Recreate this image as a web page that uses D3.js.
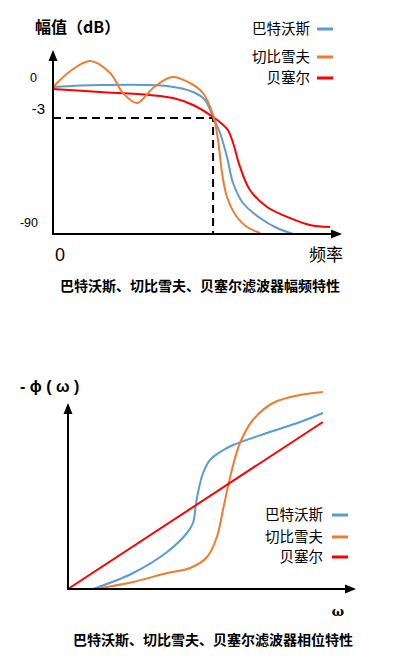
<!DOCTYPE html>
<html><head><meta charset="utf-8">
<script src="https://cdn.jsdelivr.net/npm/d3@7/dist/d3.min.js"></script>
<style>html,body{margin:0;padding:0;background:#fff;}svg{display:block;}</style>
</head><body>
<svg id="c" width="420" height="661"></svg>
<script>
// ---------- DATA ----------
const seriesNames = ["巴特沃斯", "切比雪夫", "贝塞尔"];
const seriesColors = ["#5B9BD5", "#ED7D31", "#FF0000"];
// Amplitude chart (x: frequency units 0..100, y: level units)
const ampButterX = [0, 16.2, 39.3, 48.3, 52.4, 55.2, 57.6, 60, 62.1, 65.5, 71.4, 77.2, 82.8];
const ampButterY = [73.5, 74.5, 74, 71, 67, 58.5, 50.5, 38.5, 25.5, 15.5, 8, 3, 0];
const ampChebX = [0, 6.5, 12.8, 19.7, 24.1, 29, 34.5, 41, 47.2, 51.7, 55.2, 56.9, 58.3, 60, 63.4, 66.9, 71.4];
const ampChebY = [73.5, 82, 86.5, 80.5, 70.5, 65.5, 73, 78.5, 75.5, 70.5, 59.5, 47, 30.5, 18.5, 8.5, 3.5, 0.5];
const ampBesselX = [0, 16.2, 33.4, 41.4, 48.3, 55.2, 58.3, 60.3, 62.1, 64.5, 67.9, 73.8, 81.7, 88.6, 95.5];
const ampBesselY = [72.5, 71, 69.5, 68, 64.5, 58.5, 55, 52, 45.5, 33.5, 22, 13.5, 8, 4.5, 3.5];
const ampTickLabels = ["0", "-3", "-90"];
const ampTickValues = [78, 62.5, 5.5];
const cutoff = {x: 55.2, y: 58};
// Phase chart
const phButterX = [8.7, 22.6, 34.4, 41.3, 43.4, 44.3, 45.1, 46.9, 49.3, 52.8, 57.3, 69.1, 80.6, 88.5];
const phButterY = [0, 8, 18.5, 28, 33, 41, 48, 58, 64.5, 68.5, 72, 78, 83.5, 88];
const phChebX = [9.4, 22.6, 34.4, 42.4, 48.3, 51.7, 53.8, 56.3, 59.7, 64.2, 71.2, 80.6, 88.5];
const phChebY = [0, 3.5, 8, 10.5, 16, 26, 39.5, 56, 73, 84.5, 93, 97, 98.5];
const phBesselX = [0, 88.5];
const phBesselY = [0, 83.5];

const svg = d3.select("#c");
const CJK = "'Noto Sans CJK SC','Noto Sans',sans-serif";
const LAT = "'Liberation Sans',Arial,sans-serif";

function zip(xs, ys){ return xs.map((x,i)=>[x, ys[i]]); }

function drawAxes(g, x0, y0, x1, y1){
  g.append("line").attr("x1",x0).attr("y1",y0).attr("x2",x0).attr("y2",y1+8)
    .attr("stroke","#000").attr("stroke-width",2);
  g.append("line").attr("x1",x0-1).attr("y1",y0).attr("x2",x1-8).attr("y2",y0)
    .attr("stroke","#000").attr("stroke-width",2);
  g.append("path").attr("d",`M${x0},${y1} L${x0-4.5},${y1+11} L${x0+4.5},${y1+11} Z`).attr("fill","#000");
  g.append("path").attr("d",`M${x1},${y0} L${x1-11},${y0-4.5} L${x1-11},${y0+4.5} Z`).attr("fill","#000");
}

function legend(g, x, y, lx){
  seriesNames.forEach((n,i)=>{
    const yy = y[i];
    g.append("text").attr("x", x).attr("y", yy).attr("dy","0.35em").attr("text-anchor","end")
      .style("font-family",CJK).style("font-size","14.5px").attr("fill","#000").text(n);
    g.append("line").attr("x1",lx).attr("x2",lx+16).attr("y1",yy).attr("y2",yy)
      .attr("stroke",seriesColors[i]).attr("stroke-width",3);
  });
}

// ---------- Amplitude chart ----------
{
  const g = svg.append("g");
  const x = d3.scaleLinear().domain([0,100]).range([53,343]);
  const y = d3.scaleLinear().domain([0,90]).range([234,54]);
  const line = d3.line().x(d=>x(d[0])).y(d=>y(d[1])).curve(d3.curveCatmullRom.alpha(0.5));
  const sets = [zip(ampButterX,ampButterY), zip(ampChebX,ampChebY), zip(ampBesselX,ampBesselY)];
  g.append("path").attr("d",`M${x(0)},${y(cutoff.y)} H${x(cutoff.x)} V${y(0)}`)
    .attr("fill","none").attr("stroke","#000").attr("stroke-width",2).attr("stroke-dasharray","8,5");
  [0,2,1].forEach(i=>{
    g.append("path").attr("d",line(sets[i])).attr("fill","none")
      .attr("stroke",seriesColors[i]).attr("stroke-width",2);
  });
  drawAxes(g, x(0), y(0), 342, 50);
  const sizes = [12.5, 15, 12.5];
  ampTickLabels.forEach((t,i)=>{
    g.append("text").attr("x", i===2?38:(i===1?45:37)).attr("y", y(ampTickValues[i])).attr("dy","0.35em")
      .attr("text-anchor","end").style("font-family",LAT).style("font-size",sizes[i]+"px").text(t);
  });
  g.append("text").attr("x",60).attr("y",255).attr("dy","0.35em").attr("text-anchor","middle")
    .style("font-family",LAT).style("font-size","18px").text("0");
  g.append("text").attr("x",326).attr("y",255).attr("dy","0.35em").attr("text-anchor","middle")
    .style("font-family",CJK).style("font-size","17px").text("频率");
  g.append("text").attr("x",35).attr("y",27).attr("dy","0.35em")
    .style("font-family",CJK).style("font-size","16px").style("font-weight","bold").text("幅值（dB）");
  legend(g, 310, [29,57,78], 317);
  g.append("text").attr("x",200).attr("y",286).attr("dy","0.35em").attr("text-anchor","middle")
    .style("font-family",CJK).style("font-size","14px").style("font-weight","bold")
    .text("巴特沃斯、切比雪夫、贝塞尔滤波器幅频特性");
}

// ---------- Phase chart ----------
{
  const g = svg.append("g");
  const x = d3.scaleLinear().domain([0,100]).range([68,356]);
  const y = d3.scaleLinear().domain([0,93]).range([589,403]);
  const line = d3.line().x(d=>x(d[0])).y(d=>y(d[1])).curve(d3.curveCatmullRom.alpha(0.5));
  const sets = [zip(phButterX,phButterY), zip(phChebX,phChebY), zip(phBesselX,phBesselY)];
  [0,1,2].forEach(i=>{
    g.append("path").attr("d",line(sets[i])).attr("fill","none")
      .attr("stroke",seriesColors[i]).attr("stroke-width",2);
  });
  drawAxes(g, x(0), y(0), 356, 403);
  g.append("text").attr("x",20).attr("y",386).attr("dy","0.35em")
    .style("font-family",LAT).style("font-size","16px").style("font-weight","bold")
    .style("white-space","pre").text("- \u03D5 ( ω )");
  g.append("text").attr("x",338).attr("y",611).attr("dy","0.35em").attr("text-anchor","middle")
    .style("font-family","'DejaVu Serif',serif").style("font-size","13px").style("font-weight","bold").text("ω");
  legend(g, 323, [515,537,557], 332);
  g.append("text").attr("x",213).attr("y",640).attr("dy","0.35em").attr("text-anchor","middle")
    .style("font-family",CJK).style("font-size","14px").style("font-weight","bold")
    .text("巴特沃斯、切比雪夫、贝塞尔滤波器相位特性");
}
</script>
</body></html>
